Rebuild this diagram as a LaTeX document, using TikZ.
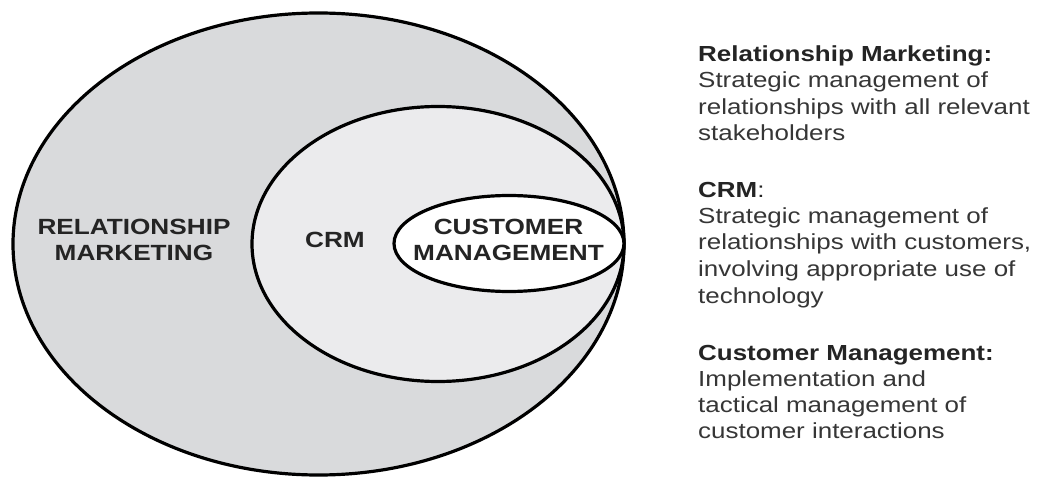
\documentclass[tikz,border=0pt]{standalone}
\usepackage{fontspec}
\newfontfamily\diagfont[FakeStretch=1.19]{Liberation Sans}
\definecolor{outerfill}{HTML}{D9DADC}
\definecolor{midfill}{HTML}{EBEBED}
\definecolor{labeltext}{HTML}{242424}
\definecolor{bodytext}{HTML}{363636}
\begin{document}
\begin{tikzpicture}[x=1pt,y=-1pt,
  ring/.style={draw=black, line width=3.2pt},
  biglabel/.style={font=\diagfont\bfseries\fontsize{22}{26}\selectfont, text=labeltext, align=center, inner sep=0pt},
  deftitle/.style={font=\diagfont\bfseries\fontsize{21.8}{26}\selectfont, text=labeltext, anchor=base west, inner sep=0pt},
  defline/.style={font=\diagfont\fontsize{21.8}{26}\selectfont, text=bodytext, anchor=base west, inner sep=0pt}]
\useasboundingbox (0,0) rectangle (1038,478);
\fill[white] (0,0) rectangle (1038,478);
% nested ellipses, all touching at the right
\path[ring, fill=outerfill] (318.5,244) ellipse [x radius=305.5, y radius=231];
\path[ring, fill=midfill] (438,244) ellipse [x radius=186, y radius=137.5];
\path[ring, fill=white] (509,243.5) ellipse [x radius=115, y radius=48];
% labels in the ellipses
\node[biglabel] (lrm) at (134,240) {RELATIONSHIP\\MARKETING};
\node[biglabel] (lcrm) at (335,240) {CRM};
\node[biglabel] (lcm) at (508.5,239.5) {CUSTOMER\\MANAGEMENT};
% definitions
\node[deftitle] (rm0) at (698,61.5) {Relationship Marketing:};
\node[defline] (rm1) at (698,88) {Strategic management of};
\node[defline] (rm2) at (698,114.5) {relationships with all relevant};
\node[defline] (rm3) at (698,141) {stakeholders};
\node[deftitle] (crm0) at (698,197.5) {CRM\textmd{:}};
\node[defline] (crm1) at (698,223.5) {Strategic management of};
\node[defline] (crm2) at (698,250) {relationships with customers,};
\node[defline] (crm3) at (698,276.5) {involving appropriate use of};
\node[defline] (crm4) at (698,303) {technology};
\node[deftitle] (cm0) at (698,360) {Customer Management:};
\node[defline] (cm1) at (698,386) {Implementation and};
\node[defline] (cm2) at (698,412) {tactical management of};
\node[defline] (cm3) at (698,438) {customer interactions};
\end{tikzpicture}
\end{document}
